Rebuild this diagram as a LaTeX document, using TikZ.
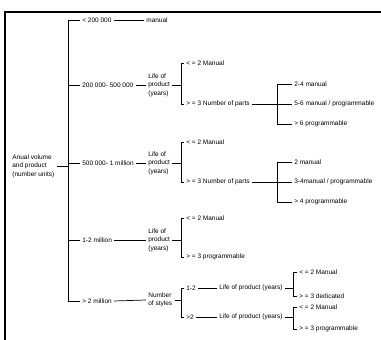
\documentclass[tikz,border=0pt]{standalone}
\usepackage{fontspec}
\setmainfont{Liberation Sans}
\usepackage{tikz}

\begin{document}
\begin{tikzpicture}[x=1pt,y=-1pt,line width=0.7pt,
  lbl/.style={right,inner sep=2pt,align=left,font=\fontsize{6.5}{8.5}\selectfont}]
\useasboundingbox (0,0) rectangle (381,340);
\draw[line width=1.4pt] (5,340) -- (5,12) -- (381,12);

\coordinate (bar) at (68,0);
\coordinate (br) at (181,0);
\coordinate (pb) at (277,0);
\coordinate (sb) at (293,0);

\node[lbl] (root) at (10,166) {Anual volume\\and product\\(number units)};

\node[lbl] (v1) at (80,20) {< 200 000};
\node[lbl] (v2) at (80,85) {200 000- 500 000};
\node[lbl] (v3) at (80,163) {500 000- 1 million};
\node[lbl] (v4) at (80,240) {1-2 million};
\node[lbl] (v5) at (80,301) {> 2 million};
\draw (v1.west) -- (v1.west -| bar) |- (v5.west);
\foreach \n in {v2,v3,v4}
  \draw (\n.west) -- (\n.west -| bar);
\draw (root.east) -- (root.east -| bar);

\node[lbl] (m1) at (144,20) {manual};
\node[lbl] (l2) at (146,85) {Life of\\product\\(years)};
\node[lbl] (l3) at (146,163) {Life of\\product\\(years)};
\node[lbl] (l4) at (146,240) {Life of\\product\\(years)};
\node[lbl] (s5) at (146,300) {Number\\of styles};
\draw (v1.east) -- (m1.west);
\draw (v2.east) -- (l2.west);
\draw (v3.east) -- (l3.west);
\draw (v4.east) -- (l4.west);
\draw (v5.east) -- (s5.west);

\node[lbl] (a2) at (184,63) {< = 2 Manual};
\node[lbl] (b2) at (184,104) {> = 3 Number of parts};
\node[lbl] (a3) at (184,142) {< = 2 Manual};
\node[lbl] (b3) at (184,182) {> = 3 Number of parts};
\node[lbl] (a4) at (184,218) {< = 2 Manual};
\node[lbl] (b4) at (184,257) {> = 3 programmable};
\node[lbl] (d1) at (184,288) {1-2};
\node[lbl] (d2) at (184,317) {>2};
\draw (a2.west) -- (a2.west -| br) |- (b2.west);
\draw (a3.west) -- (a3.west -| br) |- (b3.west);
\draw (a4.west) -- (a4.west -| br) |- (b4.west);
\draw (d1.west) -- (d1.west -| br) |- (d2.west);
\draw (l2.east) -- (l2.east -| br);
\draw (l3.east) -- (l3.east -| br);
\draw (l4.east) -- (l4.east -| br);
\draw (s5.east) -- (s5.east -| br);

\node[lbl] (c1) at (292,84) {2-4 manual};
\node[lbl] (c2) at (292,104) {5-6 manual / programmable};
\node[lbl] (c3) at (292,124) {> 6 programmable};
\node[lbl] (c4) at (292,162) {2 manual};
\node[lbl] (c5) at (292,182) {3-4manual / programmable};
\node[lbl] (c6) at (292,202) {> 4 programmable};
\draw (c1.west) -- (c1.west -| pb) |- (c3.west);
\draw (c4.west) -- (c4.west -| pb) |- (c6.west);
\draw (b2.east) -- (c2.west);
\draw (b3.east) -- (c5.west);

\node[lbl] (e1) at (217,288) {Life of product (years)};
\node[lbl] (e2) at (217,317) {Life of product (years)};
\draw (d1.east) -- (e1.west);
\draw (d2.east) -- (e2.west);

\node[lbl] (f1) at (297,272) {< = 2 Manual};
\node[lbl] (f2) at (297,296) {> = 3 dedicated};
\node[lbl] (f3) at (297,307) {< = 2 Manual};
\node[lbl] (f4) at (297,329) {> = 3 programmable};
\draw (f1.west) -- (f1.west -| sb) |- (f2.west);
\draw (f3.west) -- (f3.west -| sb) |- (f4.west);
\draw (e1.east) -- (e1.east -| sb);
\draw (e2.east) -- (e2.east -| sb);
\end{tikzpicture}
\end{document}
